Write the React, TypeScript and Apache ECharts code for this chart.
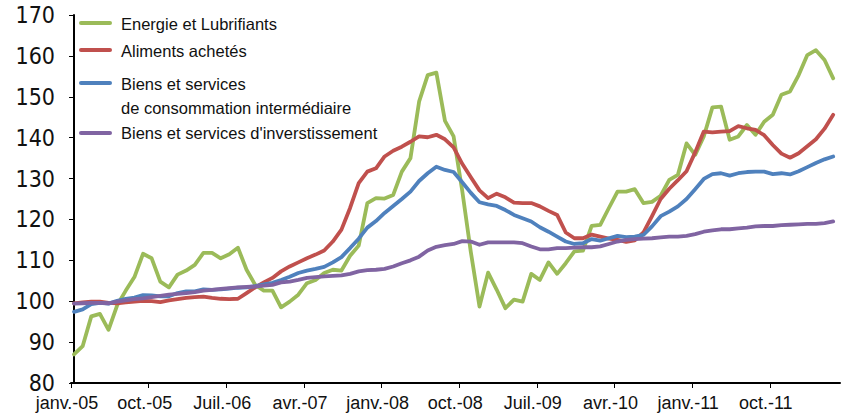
import React, { useEffect, useRef } from "react";
import * as echarts from "echarts";

const xTickLabels = ["janv.-05", "oct.-05", "Juil.-06", "avr.-07", "janv.-08", "oct.-08", "Juil.-09", "avr.-10", "janv.-11", "oct.-11"];

const seriesNames = [
  "Energie et Lubrifiants",
  "Aliments achetés",
  "Biens et services de consommation intermédiaire",
  "Biens et services d'inverstissement",
];

const energie = [
  87.0, 89.0, 96.3, 96.9, 93.0, 99.0, 102.6, 105.9, 111.6, 110.5,
  104.8, 103.4, 106.5, 107.5, 108.9, 111.8, 111.8, 110.5, 111.5, 113.1,
  107.7, 104.0, 102.6, 102.6, 98.5, 99.9, 101.6, 104.4, 105.2, 106.9,
  107.7, 107.5, 111.1, 113.6, 124.0, 125.2, 125.1, 126.0, 131.7, 135.0,
  148.8, 155.3, 155.9, 144.1, 140.3, 127.0, 112.0, 98.7, 107.0, 102.8,
  98.3, 100.4, 99.9, 106.7, 105.2, 109.5, 106.7, 109.3, 112.2, 112.4,
  118.4, 118.7, 122.8, 126.8, 126.8, 127.4, 124.0, 124.3, 125.8, 129.7,
  130.9, 138.6, 135.8, 140.3, 147.4, 147.6, 139.5, 140.3, 143.1, 140.7,
  143.9, 145.6, 150.5, 151.3, 155.3, 160.2, 161.4, 159.0, 154.5,
];

const aliments = [
  99.5, 99.7, 99.9, 99.9, 99.6, 99.5, 99.7, 99.9, 100.1, 100.0,
  99.8, 100.2, 100.5, 100.8, 101.0, 101.1, 100.8, 100.6, 100.5, 100.6,
  102.0, 103.4, 104.6, 105.7, 107.3, 108.5, 109.5, 110.5, 111.4, 112.4,
  114.6, 117.5, 122.8, 128.9, 131.7, 132.5, 135.4, 136.8, 137.8, 139.0,
  140.3, 140.1, 140.7, 139.6, 137.6, 133.6, 130.3, 127.1, 125.2, 126.3,
  125.4, 124.1, 124.0, 124.0, 123.2, 122.1, 121.1, 116.8, 115.4, 115.4,
  116.3, 115.8, 115.3, 115.0, 114.5, 114.9, 116.8, 120.8, 125.0, 127.5,
  129.6, 131.8, 136.4, 141.5, 141.3, 141.5, 141.6, 142.8, 142.3, 141.9,
  140.6, 138.2, 136.1, 135.1, 136.2, 137.9, 139.6, 142.2, 145.6,
];

const consoInter = [
  97.4, 98.0, 99.3, 99.6, 99.4, 100.1, 100.6, 100.9, 101.5, 101.4,
  101.2, 101.2, 102.0, 102.4, 102.4, 102.9, 102.8, 102.9, 103.1, 103.3,
  103.4, 103.7, 104.1, 104.5, 105.2, 106.0, 106.9, 107.5, 107.9, 108.4,
  109.5, 110.8, 113.0, 115.3, 118.0, 119.6, 121.6, 123.3, 125.0, 126.8,
  129.4, 131.3, 132.9, 132.1, 131.6, 129.1, 126.5, 124.2, 123.7, 123.3,
  122.3, 121.1, 120.3, 119.5, 118.1, 117.0, 115.8, 114.6, 114.0, 114.2,
  115.2, 114.8, 115.4, 116.0, 115.7, 115.8, 116.2, 118.3, 120.8, 121.9,
  123.2, 125.0, 127.4, 129.9, 131.1, 131.3, 130.7, 131.3, 131.6, 131.7,
  131.7, 131.1, 131.3, 131.0, 131.8, 132.8, 133.8, 134.7, 135.4,
];

const investissement = [
  99.4, 99.5, 99.6, 99.6, 99.5, 99.9, 100.2, 100.5, 100.7, 101.0,
  101.3, 101.6, 101.8, 102.0, 102.2, 102.6, 102.8, 103.0, 103.2, 103.4,
  103.5, 103.6, 103.8, 104.0, 104.6, 104.8, 105.2, 105.7, 105.9, 106.1,
  106.2, 106.3, 106.7, 107.3, 107.6, 107.7, 107.9, 108.5, 109.3, 110.0,
  110.9, 112.4, 113.3, 113.7, 114.0, 114.7, 114.6, 113.8, 114.4, 114.4,
  114.4, 114.4, 114.2, 113.4, 112.7, 112.7, 113.0, 113.0, 113.1, 113.2,
  113.2, 113.4, 114.0, 114.6, 115.0, 115.2, 115.3, 115.4, 115.6, 115.8,
  115.8, 116.0, 116.4, 117.0, 117.3, 117.6, 117.6, 117.8, 118.0, 118.3,
  118.4, 118.4, 118.6, 118.7, 118.8, 118.9, 118.9, 119.1, 119.5,
];

const colors = ["#9BBB59", "#C0504D", "#4F81BD", "#8064A2"];
const FONT = "'Liberation Sans', Arial, Helvetica, sans-serif";
const NARROW = "'Liberation Sans Narrow', 'Arial Narrow', 'DejaVu Sans Condensed', 'Liberation Sans', Arial, sans-serif";
const X_MIN = -0.35;
const X_MAX = 88.79;
const MONTHS_PER_TICK = 9;

export default function App() {
  const ref = useRef<HTMLDivElement>(null);

  useEffect(() => {
    if (!ref.current) return;
    const chart = echarts.init(ref.current, null, { renderer: "svg" });
    const all = [energie, aliments, consoInter, investissement];
    const legendRows = [
      { lineY: 23, texts: [{ t: seriesNames[0], y: 24 }] },
      { lineY: 50, texts: [{ t: seriesNames[1], y: 51 }] },
      { lineY: 83, texts: [{ t: "Biens et services", y: 84 }, { t: "de consommation intermédiaire", y: 108 }] },
      { lineY: 133, texts: [{ t: seriesNames[3], y: 133 }] },
    ];
    const graphics: any[] = [];
    legendRows.forEach((row, k) => {
      graphics.push({
        type: "line",
        shape: { x1: 81, y1: row.lineY, x2: 110, y2: row.lineY },
        style: { stroke: colors[k], lineWidth: 4, lineCap: "round" },
        z: 10,
      });
      row.texts.forEach((tx) => {
        graphics.push({
          type: "text",
          x: 121,
          y: tx.y,
          style: {
            text: tx.t,
            fill: "#111",
            font: `16.5px ${FONT}`,
            textVerticalAlign: "middle",
            verticalAlign: "middle",
          },
          z: 10,
        });
      });
    });

    chart.setOption({
      animation: false,
      backgroundColor: "#ffffff",
      grid: { left: 71, right: 1, top: 15, bottom: 35, containLabel: false },
      xAxis: {
        type: "value",
        min: X_MIN,
        max: X_MAX,
        interval: MONTHS_PER_TICK,
        axisLine: { show: true, onZero: false, lineStyle: { color: "#000", width: 2 } },
        axisTick: { show: true, inside: false, length: 5, lineStyle: { color: "#000", width: 1 } },
        splitLine: { show: false },
        axisLabel: {
          show: true,
          margin: 11,
          fontSize: 18,
          fontFamily: FONT,
          color: "#111",
          padding: [0, 8, 0, 0],
          showMaxLabel: false,
          formatter: (v: number) => {
            const k = Math.round((v - X_MIN) / MONTHS_PER_TICK);
            const exact = Math.abs(v - (X_MIN + k * MONTHS_PER_TICK)) < 0.01;
            return exact && xTickLabels[k] ? xTickLabels[k] : "";
          },
        },
      },
      yAxis: {
        type: "value",
        min: 80,
        max: 170,
        interval: 10,
        axisLine: { show: true, lineStyle: { color: "#000", width: 2 } },
        axisTick: { show: true, inside: false, length: 5, lineStyle: { color: "#000", width: 1 } },
        splitLine: { show: false },
        axisLabel: { margin: 16, fontSize: 23, fontFamily: NARROW, color: "#111" },
      },
      series: all.map((arr, k) => ({
        name: seriesNames[k],
        type: "line",
        data: arr.map((v, i) => [i, v]),
        showSymbol: false,
        symbol: "none",
        smooth: false,
        lineStyle: { color: colors[k], width: 3.8, cap: "round", join: "round" },
        itemStyle: { color: colors[k] },
        z: 2 + k,
      })),
      graphic: graphics,
    });
    return () => chart.dispose();
  }, []);

  return (
    <div
      ref={ref}
      style={{ position: "absolute", left: 0, top: 0, width: 841, height: 418, background: "#fff" }}
    />
  );
}
